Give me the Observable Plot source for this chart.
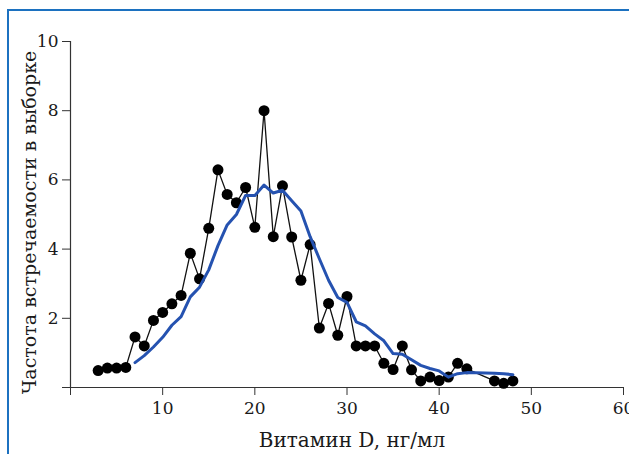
<!DOCTYPE html>
<html>
<head>
<meta charset="utf-8">
<script src="https://cdn.jsdelivr.net/npm/d3@7"></script>
<script src="https://cdn.jsdelivr.net/npm/@observablehq/plot@0.6"></script>
<style>
  html, body { margin: 0; padding: 0; background: #fff; }
  #wrap { position: relative; width: 629px; height: 454px; overflow: hidden; background: #fff; }
  #frame { position: absolute; left: 7px; top: 9px; width: 700px; height: 500px;
           border-left: 2.5px solid #1c71c0; border-top: 2.5px solid #1c71c0; pointer-events: none; }
</style>
</head>
<body>
<div id="wrap"><div id="frame"></div></div>
<script>
// Observed frequencies (black dots)
const obsX = [3,4,5,6,7,8,9,10,11,12,13,14,15,16,17,18,19,20,21,22,23,24,25,26,27,28,29,30,31,32,33,34,35,36,37,38,39,40,41,42,43,46,47,48];
const obsY = [0.49,0.56,0.56,0.58,1.46,1.2,1.94,2.17,2.42,2.66,3.88,3.14,4.6,6.29,5.58,5.34,5.78,4.63,8.0,4.36,5.83,4.35,3.1,4.13,1.72,2.43,1.51,2.63,1.2,1.2,1.2,0.7,0.52,1.2,0.51,0.19,0.3,0.2,0.3,0.7,0.54,0.19,0.12,0.19];
// Smoothed curve (blue line)
const fitX = [7,8,9,10,11,12,13,14,15,16,17,18,19,20,21,22,23,24,25,26,27,28,29,30,31,32,33,34,35,36,37,38,39,40,41,42,43,46,47,48];
const fitY = [0.72,0.92,1.17,1.45,1.8,2.05,2.62,2.9,3.4,4.1,4.7,5.0,5.55,5.55,5.85,5.62,5.7,5.4,5.1,4.36,3.72,3.1,2.6,2.46,1.9,1.78,1.55,1.35,0.98,0.96,0.8,0.64,0.55,0.48,0.3,0.4,0.43,0.41,0.4,0.37];
const xTicks = [0,10,20,30,40,50,60];
const yTicks = [0,2,4,6,8,10];
const xLabel = "Витамин D, нг/мл";
const yLabel = "Частота встречаемости в выборке";

const obs = obsX.map((x, i) => ({x, y: obsY[i]}));
const fit = fitX.map((x, i) => ({x, y: fitY[i]}));
const axisColor = "#333";

const chart = Plot.plot({
  width: 629,
  height: 454,
  marginLeft: 70,
  marginRight: 6,
  marginTop: 41,
  marginBottom: 67,
  style: {fontFamily: "'DejaVu Serif', serif", background: "transparent", color: "#1a1a1a"},
  x: {domain: [0, 60]},
  y: {domain: [0, 10]},
  marks: [
    Plot.ruleY([0], {stroke: axisColor, strokeWidth: 1.2}),
    Plot.ruleX([0], {stroke: axisColor, strokeWidth: 1.2}),
    Plot.axisX({ticks: xTicks, tickFormat: d => d === 0 ? "" : String(d), tickSize: 8, tickPadding: 6,
      fontSize: 17, stroke: axisColor, label: null}),
    Plot.axisY({ticks: yTicks, tickFormat: d => d === 0 ? "" : String(d), tickSize: 8, tickPadding: 4,
      fontSize: 17, stroke: axisColor, label: null}),
    Plot.line(obs, {x: "x", y: "y", stroke: "#111", strokeWidth: 1.3}),
    Plot.dot(obs, {x: "x", y: "y", r: 5.5, fill: "#000", stroke: "none"}),
    Plot.line(fit, {x: "x", y: "y", stroke: "#2552b0", strokeWidth: 3, curve: "linear"}),
    Plot.text([xLabel], {text: d => d, frameAnchor: "bottom", dx: 5, dy: 53, fontSize: 20,
      lineAnchor: "middle", textAnchor: "middle", fill: "#1a1a1a"}),
    Plot.text([yLabel], {text: d => d, frameAnchor: "left", rotate: -90, dx: -41, dy: 8, fontSize: 19,
      lineAnchor: "middle", textAnchor: "middle", fill: "#1a1a1a"})
  ]
});
document.getElementById("wrap").insertBefore(chart, document.getElementById("frame"));
</script>
</body>
</html>
